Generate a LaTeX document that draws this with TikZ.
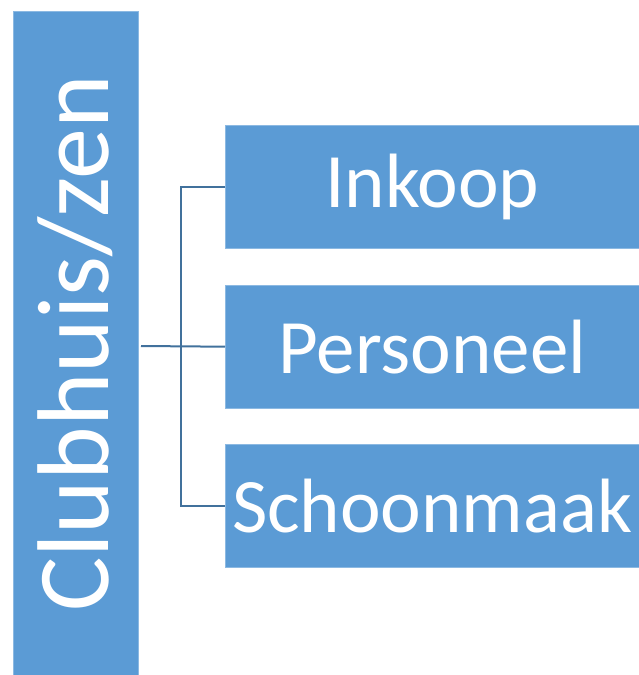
\documentclass[tikz,border=0pt]{standalone}
\usepackage{fontspec}
\setmainfont{Carlito}
\usepackage{xcolor}
\usepackage{tikz}

\definecolor{boxblue}{HTML}{5B9BD5}
\definecolor{linkblue}{HTML}{41719C}

\begin{document}
\begin{tikzpicture}[x=1pt, y=-1pt,
    taak/.style={draw=boxblue!70!white, fill=boxblue, text=white, inner sep=0pt,
        minimum width=414pt, minimum height=123pt, anchor=north west,
        font=\fontsize{77}{88}\selectfont},
    link/.style={draw=linkblue, line width=2pt}]
    \useasboundingbox (0,0) rectangle (639,675);
    \node[draw=boxblue!70!white, fill=boxblue, text=white, inner sep=0pt,
        minimum width=125pt, minimum height=664pt, anchor=north west] (club) at (13,11) {};
    \node[text=white, rotate=90, font=\fontsize{102}{112}\selectfont] at (club.center) {Clubhuis/zen};
    \node[taak] (inkoop) at (225,125) {Inkoop};
    \node[taak] (personeel) at (225,285) {Personeel};
    \node[taak] (schoonmaak) at (225,444) {Schoonmaak};

    \coordinate (split) at (181,346);
    \coordinate (start) at (141,346);
    \draw[link] (start) -- (personeel.west);
    \draw[link] (inkoop.west) -| (split) |- (schoonmaak.west);
\end{tikzpicture}
\end{document}
